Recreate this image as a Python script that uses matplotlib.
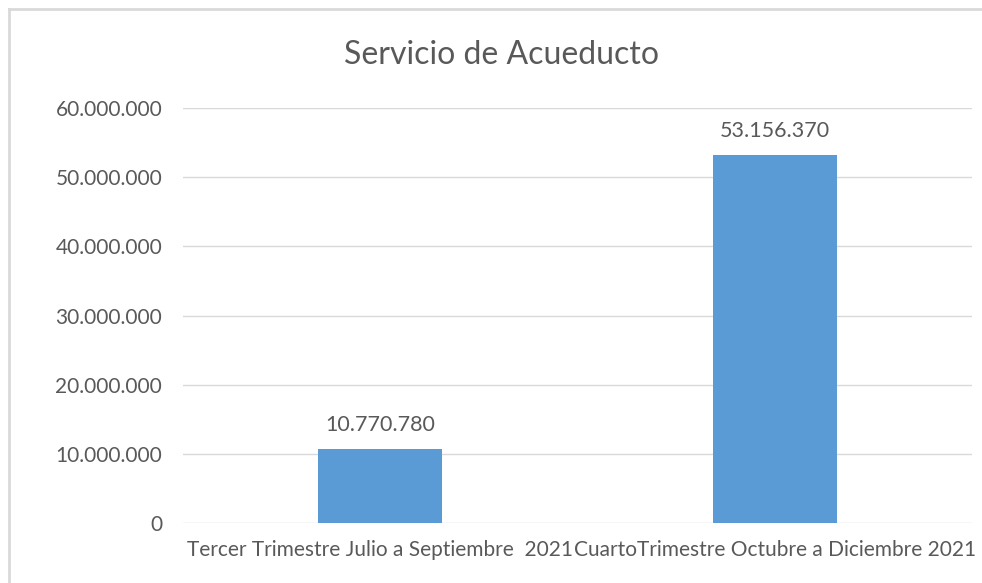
import matplotlib.pyplot as plt
from matplotlib.ticker import FuncFormatter

# data
categorias = ['Tercer Trimestre Julio a Septiembre  2021',
              'CuartoTrimestre Octubre a Diciembre 2021']
valores = [10770780, 53156370]
yticks = [0, 10000000, 20000000, 30000000, 40000000, 50000000, 60000000]

gris = '#595959'
azul = '#5B9BD5'

def miles(v, pos=None):
    return f'{int(v):,}'.replace(',', '.')

plt.rcParams['font.family'] = ['Lato', 'DejaVu Sans']

fig = plt.figure(figsize=(9.82, 5.83), dpi=100)
ax = fig.add_axes([183/982, 1-523/583, (972-183)/982, (523-108)/583])

x = range(len(categorias))
ax.bar(x, valores, width=0.315, color=azul, zorder=3)
for xi, v in zip(x, valores):
    ax.annotate(miles(v), (xi, v), xytext=(0, 10), textcoords='offset points',
                ha='center', va='bottom', fontsize=15.5, color=gris)

ax.set_xlim(-0.5, 1.5)
ax.set_ylim(0, 60000000)
ax.set_yticks(yticks)
ax.yaxis.set_major_formatter(FuncFormatter(miles))
ax.set_xticks(list(x))
ax.set_xticklabels(categorias)
ax.tick_params(axis='y', length=0, labelsize=15, colors=gris, pad=15)
ax.tick_params(axis='x', length=0, labelsize=15, colors=gris, pad=12)
ax.grid(axis='y', color='#D9D9D9', linewidth=1, zorder=0)
for s in ax.spines.values():
    s.set_visible(False)

fig.text(501/982, 1-55/583, 'Servicio de Acueducto', ha='center', va='center',
         fontsize=23, color=gris)

# marco del grafico
fig.add_artist(plt.Line2D([9/982, 9/982], [0, 1-9/583], color='#D9D9D9', lw=2))
fig.add_artist(plt.Line2D([9/982, 1], [1-9/583, 1-9/583], color='#D9D9D9', lw=2))

fig.savefig('out.png', dpi=100)
